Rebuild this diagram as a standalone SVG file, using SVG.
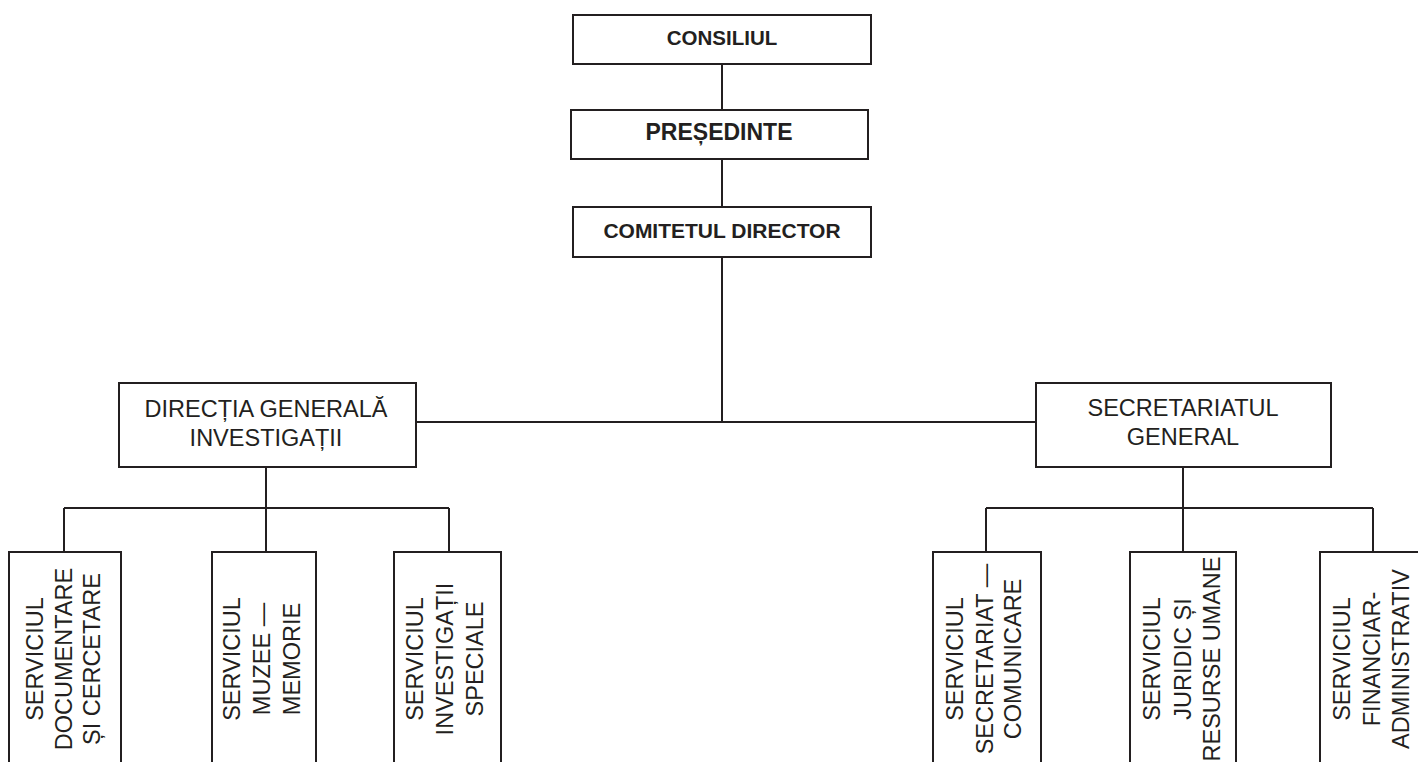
<svg xmlns="http://www.w3.org/2000/svg" width="1418" height="762" viewBox="0 0 1418 762">
<style>
.box{fill:#fff;stroke:#231f20;stroke-width:2}
.ln{fill:none;stroke:#231f20;stroke-width:2}
text{font-family:"Liberation Sans",Arial,sans-serif;fill:#231f20;text-anchor:middle}
.b{font-weight:bold}
.t{font-size:23.5px}
</style>
<rect width="1418" height="762" fill="#fff"/>
<g id="connectors">
<path class="ln" d="M722 64V110M722 159V207M722 257V422M416 422H1036"/>
<path class="ln" d="M266 467V508M64 508H449M64 508V552M266 508V552M449 508V552"/>
<path class="ln" d="M1183 467V508M986 508H1373M986 508V552M1183 508V552M1373 508V553"/>
</g>
<g id="consiliul"><rect class="box" x="573" y="15" width="298" height="49"/><text class="b" x="722" y="45" font-size="20.5">CONSILIUL</text></g>
<g id="presedinte"><rect class="box" x="571" y="110" width="297" height="49"/><text class="b" x="719" y="140" font-size="23">PREȘEDINTE</text></g>
<g id="comitetul"><rect class="box" x="573" y="207" width="298" height="50"/><text class="b" x="722" y="238" font-size="21">COMITETUL DIRECTOR</text></g>
<g id="dgi"><rect class="box" x="119" y="383" width="297" height="84"/><text class="t" x="266" y="417">DIRECȚIA GENERALĂ</text><text class="t" x="266" y="446">INVESTIGAȚII</text></g>
<g id="sg"><rect class="box" x="1036" y="383" width="295" height="84"/><text class="t" x="1183" y="416">SECRETARIATUL</text><text class="t" x="1183" y="445">GENERAL</text></g>
<g id="s1"><rect class="box" x="9" y="552" width="112" height="220"/><g transform="rotate(-90)"><text class="t" x="-659" y="43">SERVICIUL</text><text class="t" x="-659" y="71.5">DOCUMENTARE</text><text class="t" x="-659" y="100">ȘI CERCETARE</text></g></g>
<g id="s2"><rect class="box" x="212" y="552" width="104" height="220"/><g transform="rotate(-90)"><text class="t" x="-659" y="240">SERVICIUL</text><text class="t" x="-659" y="270">MUZEE —</text><text class="t" x="-659" y="300">MEMORIE</text></g></g>
<g id="s3"><rect class="box" x="394" y="552" width="107" height="220"/><g transform="rotate(-90)"><text class="t" x="-659" y="423">SERVICIUL</text><text class="t" x="-659" y="453">INVESTIGAȚII</text><text class="t" x="-659" y="483">SPECIALE</text></g></g>
<g id="s4"><rect class="box" x="933" y="552" width="108" height="220"/><g transform="rotate(-90)"><text class="t" x="-659" y="963">SERVICIUL</text><text class="t" x="-659" y="993">SECRETARIAT —</text><text class="t" x="-659" y="1021">COMUNICARE</text></g></g>
<g id="s5"><rect class="box" x="1130" y="552" width="106" height="220"/><g transform="rotate(-90)"><text class="t" x="-659" y="1160">SERVICIUL</text><text class="t" x="-659" y="1190.5">JURIDIC ȘI</text><text class="t" x="-659" y="1220">RESURSE UMANE</text></g></g>
<g id="s6"><rect class="box" x="1320" y="552" width="110" height="220"/><g transform="rotate(-90)"><text class="t" x="-659" y="1350">SERVICIUL</text><text class="t" x="-659" y="1380">FINANCIAR-</text><text class="t" x="-659" y="1409">ADMINISTRATIV</text></g></g>
</svg>
